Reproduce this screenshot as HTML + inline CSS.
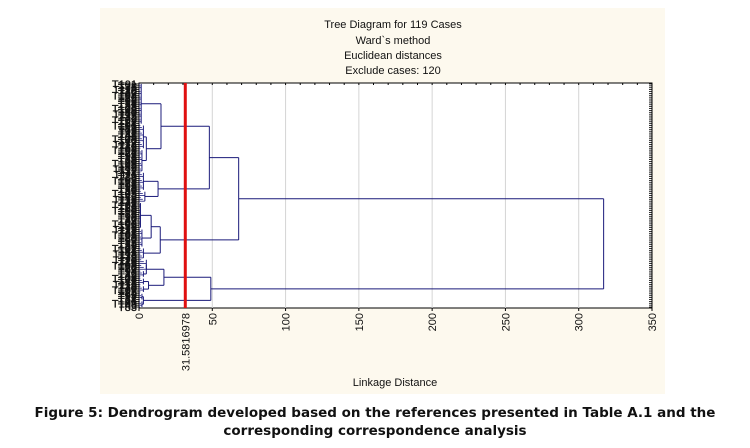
<!DOCTYPE html>
<html><head><meta charset="utf-8"><style>
body{margin:0;width:750px;height:448px;background:#fff;overflow:hidden;font-family:"Liberation Sans",sans-serif}
.cap{position:absolute;left:0;width:750px;text-align:center;font:bold 13.5px/18px "DejaVu Sans",sans-serif;color:#111;letter-spacing:0px}
</style></head><body>
<svg id="chart" width="750" height="400" style="position:absolute;left:0;top:0" font-family="Liberation Sans, sans-serif">
<rect x="100" y="8" width="565" height="386" fill="#fdf9ee"/>
<g font-size="11" text-anchor="middle" fill="#111">
<text x="393" y="28">Tree Diagram for 119 Cases</text>
<text x="393" y="44">Ward`s method</text>
<text x="393" y="59">Euclidean distances</text>
<text x="393" y="74">Exclude cases: 120</text>
</g>
<rect x="139" y="83" width="513" height="225" fill="#fff" stroke="#000" stroke-width="1"/>
<g id="grid"></g><g id="ticks"></g><g id="tree"></g><g id="labels"></g><g id="xlab"></g>
<text x="395" y="386" font-size="11" text-anchor="middle" fill="#111">Linkage Distance</text>
</svg>
<div class="cap" style="top:404px">Figure 5: Dendrogram developed based on the references presented in Table A.1 and the<br>corresponding correspondence analysis</div>
<script>
const xTicks=[0,50,100,150,200,250,300,350];
const cutValue=31.5816978;
const groupSizes=[22,13,12,10,6,14,10,6,6,4,4,4,4,4];
const groupHeights=[1.5,3,2,3,4,1,2,3,5,3,3,3,2,2];
const mergeLeft=[1,0,3,15,5,18,17,8,10,21,12,23,20];
const mergeRight=[2,14,4,16,6,7,19,9,11,22,13,24,25];
const mergeHeights=[5,15,13,48,8.3,14.5,68,5,6.5,17,3,49,317];
const NS="http://www.w3.org/2000/svg";
const X0=139,X1=652,Y0=83,Y1=308,XMAX=350;
const N=groupSizes.reduce((a,b)=>a+b,0);
const xs=v=>X0+v/XMAX*(X1-X0);
const ys=i=>Y0+(i+0.5)*(Y1-Y0)/N;
function mk(parent,tag,attrs,name){const e=document.createElementNS(NS,tag);for(const k in attrs)e.setAttribute(k,attrs[k]);


document.getElementById(parent).appendChild(e);return e;}
xTicks.forEach(v=>{const x=xs(v);
 if(v>0&&v<XMAX)mk('grid','line',{x1:x,x2:x,y1:Y0,y2:Y1,stroke:'#d4d4d4'},'gridline-'+v);
 mk('ticks','line',{x1:x,x2:x,y1:Y1,y2:Y1+3,stroke:'#000'},'x-tick-'+v);
 const t=mk('xlab','text',{transform:`translate(${x+4},313) rotate(-90)`,'font-size':11,'text-anchor':'end',fill:'#111'},'x-tick-label-'+v);t.textContent=v;});
for(let v=10;v<XMAX;v+=10){mk('ticks','line',{x1:xs(v),x2:xs(v),y1:Y0,y2:Y0+2,stroke:'#000'},'top-minor-tick');}
const pos=[],hts=[];let idx=0;
groupSizes.forEach((n,g)=>{const h=groupHeights[g],ysArr=[];
 for(let k=0;k<n;k++){const y=ys(idx+k);ysArr.push(y);
  mk('tree','line',{x1:X0,x2:xs(h*(0.3+0.7*((k%3)/2))),y1:y,y2:y,stroke:'#1a1a7a','stroke-width':0.8},'leaf-branch');
  mk('ticks','line',{x1:X0-3,x2:X0,y1:y,y2:y,stroke:'#000','stroke-width':0.8},'y-tick');
  mk('ticks','line',{x1:X1-3,x2:X1,y1:y,y2:y,stroke:'#000','stroke-width':0.8},'y-tick-right');
  const num=((idx+k)*37)%119+1;
  const t=mk('labels','text',{x:X0-2,y:y+4,'font-size':11,'text-anchor':'end',fill:'#111',stroke:'#111','stroke-width':0.3},'leaf-label');t.textContent='T'+(num<10?num+100:num);}
 mk('tree','line',{x1:xs(h),x2:xs(h),y1:ysArr[0],y2:ysArr[n-1],stroke:'#1a1a7a'},'group-join');
 pos.push((ysArr[0]+ysArr[n-1])/2);hts.push(h);idx+=n;});
mergeLeft.forEach((a,i)=>{const b=mergeRight[i],h=mergeHeights[i],x=xs(h);
 mk('tree','line',{x1:xs(hts[a]),x2:x,y1:pos[a],y2:pos[a],stroke:'#1a1a7a'},'merge-branch');
 mk('tree','line',{x1:xs(hts[b]),x2:x,y1:pos[b],y2:pos[b],stroke:'#1a1a7a'},'merge-branch');
 mk('tree','line',{x1:x,x2:x,y1:pos[a],y2:pos[b],stroke:'#1a1a7a'},'merge-join');
 pos.push((pos[a]+pos[b])/2);hts.push(h);});
const cx=xs(cutValue);
mk('tree','line',{x1:cx,x2:cx,y1:Y0,y2:Y1,stroke:'#e01010','stroke-width':3},'cut-line');
const ct=mk('xlab','text',{transform:`translate(${cx+4},313) rotate(-90)`,'font-size':11,'text-anchor':'end',fill:'#111'},'cut-line-label');ct.textContent=cutValue;
</script>
</body></html>
